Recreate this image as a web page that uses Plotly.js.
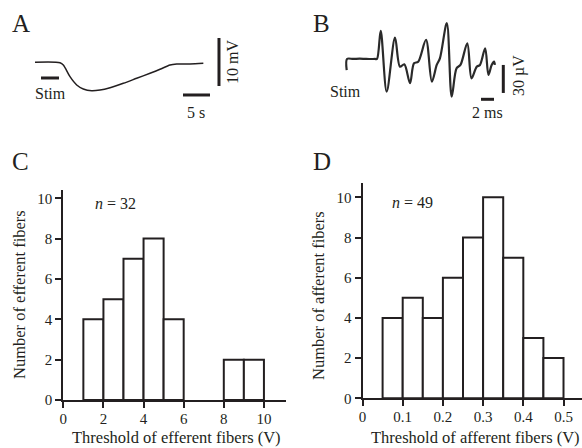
<!DOCTYPE html>
<html>
<head>
<meta charset="utf-8">
<script src="https://cdn.plot.ly/plotly-3.0.1.min.js"></script>
<style>html,body{margin:0;padding:0;background:#fff;}#chart{width:582px;height:448px;}</style>
</head>
<body>
<div id="chart"></div>
<script>
// ---- Data ----
// Panel A: slow potential (time in s, voltage in mV relative to baseline)
const aTime = [0, 4.63, 5.24, 6.48, 7.72, 8.94, 10.5, 12.04, 13.9, 16.35, 18.83, 21.3, 23.15, 25.0, 26.24, 28.7, 31.17];
const aVolt = [0, -0.1, -0.56, -3.0, -4.73, -5.56, -5.92, -5.77, -5.29, -4.38, -3.33, -2.29, -1.46, -0.56, -0.35, -0.35, -0.21];
// Panel B: compound action potentials (time in ms, voltage in µV)
const bTime = [0, 0.05, 1, 2, 3, 4.35, 4.66, 5.23, 6.15, 7.43, 8.2, 8.86, 9.74, 10.35, 11.0, 12.2, 13.1, 13.85, 14.35, 15.4, 16.15, 16.9, 17.5, 18.55, 19.2, 20.0, 20.5, 21.3, 21.8, 22.3, 22.66, 22.8];
const bVolt = [-12, 0, 0, 0.4, 0, 0, 0, 30, -35, 22.8, -8.3, -5.7, -26, -4.6, -2.9, 20.4, -24.3, -6.4, 1, 38.3, -40.4, -10, -6.4, 16.8, -20.7, -8.3, -6.4, 11.5, -17, -6.4, -2.9, -6.4];
// Panel C: efferent fibre thresholds (V), bin left edges and counts
const effBinLeft = [1, 2, 3, 4, 5, 8, 9];
const effCounts  = [4, 5, 7, 8, 4, 2, 2];
const effBinWidth = 1;
const effTicks = [0, 2, 4, 6, 8, 10];
// Panel D: afferent fibre thresholds (V)
const affBinLeft = [0.05, 0.10, 0.15, 0.20, 0.25, 0.30, 0.35, 0.40, 0.45];
const affCounts  = [4, 5, 4, 6, 8, 10, 7, 3, 2];
const affBinWidth = 0.05;
const affTicks = [0, 0.1, 0.2, 0.3, 0.4, 0.5];
const affTickText = ['0', '0.1', '0.2', '0.3', '0.4', '0.5'];
const countTicks = [0, 2, 4, 6, 8, 10];

// ---- Helpers ----
const W = 582, H = 448;
const fx = p => p / W;
const fy = p => 1 - p / H;
const INK = '#231f20';
const FONT = "'Liberation Serif', 'Times New Roman', serif";

const traces = [
  {type: 'bar', x: effBinLeft, y: effCounts, width: effBinWidth, offset: 0,
   xaxis: 'x', yaxis: 'y', marker: {color: '#ffffff', line: {color: INK, width: 2}}, hoverinfo: 'skip'},
  {type: 'bar', x: affBinLeft, y: affCounts, width: affBinWidth, offset: 0,
   xaxis: 'x2', yaxis: 'y2', marker: {color: '#ffffff', line: {color: INK, width: 2}}, hoverinfo: 'skip'},
  {type: 'scatter', mode: 'lines', x: aTime, y: aVolt, xaxis: 'x3', yaxis: 'y3',
   line: {color: INK, width: 1.5, shape: 'spline', smoothing: 0.8}, hoverinfo: 'skip'},
  {type: 'scatter', mode: 'lines', x: bTime, y: bVolt, xaxis: 'x4', yaxis: 'y4',
   line: {color: '#2a2a2a', width: 2.2, shape: 'spline', smoothing: 0.9}, hoverinfo: 'skip'}
];

const histX = (dom, range, tv, tt) => ({
  domain: dom, range: range, showline: true, linewidth: 2, linecolor: INK,
  ticks: 'outside', ticklen: 6, tickwidth: 2, tickcolor: INK, ticklabelstandoff: -2,
  tickvals: tv, ticktext: tt, showgrid: false, zeroline: false,
  tickfont: {family: FONT, size: 15, color: INK}, fixedrange: true
});
const histY = (dom, range) => ({
  domain: dom, range: range, showline: true, linewidth: 2, linecolor: INK,
  ticks: 'outside', ticklen: 6, tickwidth: 2, tickcolor: INK,
  tickvals: countTicks, showgrid: false, zeroline: false,
  tickfont: {family: FONT, size: 15, color: INK}, fixedrange: true
});
const hidden = (dom, range) => ({domain: dom, range: range, visible: false, fixedrange: true});

const layout = {
  width: W, height: H,
  margin: {l: 0, r: 0, t: 0, b: 0},
  paper_bgcolor: '#ffffff', plot_bgcolor: 'rgba(0,0,0,0)',
  showlegend: false, bargap: 0,
  font: {family: FONT, size: 16, color: INK},
  xaxis:  histX([fx(63.3), fx(286)], [0, 11.1], effTicks, effTicks.map(String)),
  yaxis:  Object.assign(histY([fy(400), fy(190)], [0, 10.41]), {anchor: 'x'}),
  xaxis2: Object.assign(histX([fx(362.5), 1], [0, 0.546], affTicks, affTickText), {anchor: 'y2'}),
  yaxis2: Object.assign(histY([fy(398.3), fy(183.3)], [0, 10.7]), {anchor: 'x2'}),
  xaxis3: Object.assign(hidden([fx(20), fx(240)], [-2.78, 37.96]), {anchor: 'y3'}),
  yaxis3: Object.assign(hidden([fy(120), fy(20)], [-12.02, 8.81]), {anchor: 'x3'}),
  xaxis4: Object.assign(hidden([fx(340), fx(510)], [-1.03, 25.12]), {anchor: 'y4'}),
  yaxis4: Object.assign(hidden([fy(105), fy(15)], [-49.3, 47.1]), {anchor: 'x4'}),
  shapes: [
    // Panel A: stim bar, 5 s bar, 10 mV bar
    {type: 'line', xref: 'x3', yref: 'y3', x0: 1.11, x1: 4.44, y0: -3.27, y1: -3.27, line: {color: INK, width: 3}},
    {type: 'line', xref: 'x3', yref: 'y3', x0: 27.4, x1: 32.4, y0: -6.81, y1: -6.81, line: {color: INK, width: 3}},
    {type: 'line', xref: 'x3', yref: 'y3', x0: 34.07, x1: 34.07, y0: -4.94, y1: 5.06, line: {color: INK, width: 3}},
    // Panel B: 2 ms bar, 30 µV bar
    {type: 'line', xref: 'x4', yref: 'y4', x0: 20.66, x1: 22.66, y0: -43.2, y1: -43.2, line: {color: INK, width: 3}},
    {type: 'line', xref: 'x4', yref: 'y4', x0: 24.09, x1: 24.09, y0: -36.4, y1: -6.4, line: {color: INK, width: 3}}
  ],
  annotations: []
};

const ann = (text, x, y, size, angle) => ({
  text: text, xref: 'paper', yref: 'paper', x: fx(x), y: fy(y),
  xanchor: 'center', yanchor: 'middle', showarrow: false, borderpad: 0,
  textangle: angle || 0, font: {family: FONT, size: size, color: INK}
});
layout.annotations.push(
  ann('A', 21, 23.5, 25), ann('B', 321, 23.5, 25), ann('C', 21, 161, 25), ann('D', 322, 162, 25),
  ann('Stim', 50.5, 93, 16), ann('5 s', 196, 112, 16), ann('10 mV', 232, 62, 16, -90),
  ann('Stim', 345, 91, 16), ann('2 ms', 487.5, 113, 16), ann('30 µV', 519, 76, 16, -90),
  ann('<i>n</i> = 32', 115, 203, 16), ann('<i>n</i> = 49', 412, 202, 16),
  ann('Threshold of efferent fibers (V)', 176, 437.5, 16.5),
  ann('Threshold of afferent fibers (V)', 475, 437.5, 16.5),
  ann('Number of efferent fibers', 19, 295, 16.5, -90),
  ann('Number of afferent fibers', 318, 295, 16.5, -90)
);

Plotly.newPlot('chart', traces, layout, {staticPlot: true, displayModeBar: false});
</script>
</body>
</html>
